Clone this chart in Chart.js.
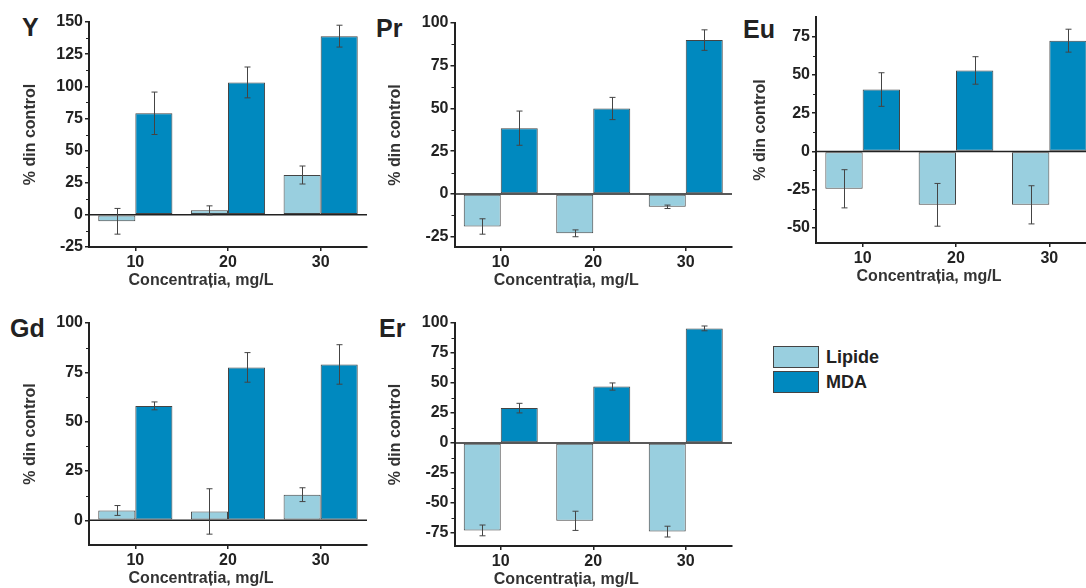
<!DOCTYPE html>
<html>
<head>
<meta charset="utf-8">
<script src="https://cdn.jsdelivr.net/npm/chart.js@4"></script>
<style>
  body { margin: 0; width: 1086px; height: 588px; overflow: hidden; background: #fff; position: relative; font-family: "Liberation Sans", Arial, sans-serif; }
  .panel { position: absolute; }
  .letter { position: absolute; font-weight: bold; font-size: 25px; color: #222; line-height: 1; }
  .legend-item { position: absolute; left: 773px; height: 22px; display: flex; align-items: center; }
  .legend-box { width: 44px; height: 20px; border: 1px solid #444; margin-right: 7px; }
  .legend-item span { font-weight: bold; font-size: 18px; color: #222; }
</style>
</head>
<body>

<div class="letter" style="left:22px;top:15px">Y</div>
<div class="letter" style="left:376px;top:16px">Pr</div>
<div class="letter" style="left:743px;top:17px">Eu</div>
<div class="letter" style="left:10px;top:316px">Gd</div>
<div class="letter" style="left:379px;top:316px">Er</div>

<div class="legend-item" style="top:346px"><div class="legend-box" style="background:#99cfdf"></div><span>Lipide</span></div>
<div class="legend-item" style="top:371px"><div class="legend-box" style="background:#0089bf"></div><span>MDA</span></div>

<script>
const categories = ["10", "20", "30"];

// Y
const yLipide = [-5, 3.5, 31];
const yLipideErr = [10, 3.5, 7];
const yMda = [79, 103, 139];
const yMdaErr = [16.5, 12, 8.5];
const yTicks = [-25, 0, 25, 50, 75, 100, 125, 150];

// Pr
const prLipide = [-19, -23, -7.5];
const prLipideErr = [4.5, 2, 1];
const prMda = [38.5, 50, 90];
const prMdaErr = [10, 6.5, 6];
const prTicks = [-25, 0, 25, 50, 75, 100];

// Eu
const euLipide = [-24.5, -35, -35];
const euLipideErr = [12.5, 14, 12.5];
const euMda = [40.5, 53, 72.5];
const euMdaErr = [11, 9, 7.5];
const euTicks = [-50, -25, 0, 25, 50, 75];

// Gd
const gdLipide = [5, 4.5, 13];
const gdLipideErr = [2.5, 11.5, 3.5];
const gdMda = [58, 77.5, 79];
const gdMdaErr = [2, 7.5, 10];
const gdTicks = [0, 25, 50, 75, 100];

// Er
const erLipide = [-73, -65, -74];
const erLipideErr = [4.5, 8, 4.5];
const erMda = [29, 47, 95.5];
const erMdaErr = [4, 3, 2];
const erTicks = [-75, -50, -25, 0, 25, 50, 75, 100];

const lipideColor = "#99cfdf";
const mdaColor = "#0089bf";
const ink = "#222";
const fontFamily = "'Liberation Sans', Arial, sans-serif";
const font = { family: fontFamily, size: 16, weight: "bold" };
const xTitle = "Concentrația, mg/L";

// chart area in page pixels: left, top, right, bottom
const panels = [
    { lip: yLipide, lipErr: yLipideErr, mda: yMda, mdaErr: yMdaErr, ticks: yTicks, min: -25, max: 150, area: [89, 22, 367, 247], yw: 72 },
    { lip: prLipide, lipErr: prLipideErr, mda: prMda, mdaErr: prMdaErr, ticks: prTicks, min: -31, max: 100, area: [454, 23, 732, 247], yw: 72.5 },
    { lip: euLipide, lipErr: euLipideErr, mda: euMda, mdaErr: euMdaErr, ticks: euTicks, min: -60, max: 88, area: [816, 17, 1096, 243], yw: 69 },
    { lip: gdLipide, lipErr: gdLipideErr, mda: gdMda, mdaErr: gdMdaErr, ticks: gdTicks, min: -12.5, max: 100, area: [89, 323, 367, 545], yw: 72 },
    { lip: erLipide, lipErr: erLipideErr, mda: erMda, mdaErr: erMdaErr, ticks: erTicks, min: -86, max: 100, area: [454, 323, 732, 546], yw: 72.5 }
];

const padTop = 12, padRight = 8, xh = 48;

// zero line, error bars, minor ticks and x title, drawn from the library's scales
const extrasPlugin = {
    id: "extras",
    afterDatasetsDraw(chart) {
        const ctx = chart.ctx;
        const ys = chart.scales.y;
        const area = chart.chartArea;
        ctx.save();

        // zero line over the bars
        const y0 = ys.getPixelForValue(0);
        ctx.strokeStyle = ink;
        ctx.lineWidth = 1.5;
        ctx.beginPath();
        ctx.moveTo(area.left, y0); ctx.lineTo(area.right, y0);
        ctx.stroke();

        ctx.strokeStyle = "#444";
        ctx.lineWidth = 1;
        chart.data.datasets.forEach((ds, i) => {
            const meta = chart.getDatasetMeta(i);
            meta.data.forEach((bar, j) => {
                const v = ds.data[j], e = ds.errors[j];
                const x = Math.round(bar.x) + 0.5;
                const y1 = ys.getPixelForValue(v + e);
                const y2 = ys.getPixelForValue(v - e);
                ctx.beginPath();
                ctx.moveTo(x, y1); ctx.lineTo(x, y2);
                ctx.moveTo(x - 3, y1); ctx.lineTo(x + 3, y1);
                ctx.moveTo(x - 3, y2); ctx.lineTo(x + 3, y2);
                ctx.stroke();
            });
        });

        // minor ticks
        const t = ys.ticks.map(k => k.value);
        ctx.strokeStyle = ink;
        for (let k = 0; k < t.length - 1; k++) {
            const y = Math.round(ys.getPixelForValue((t[k] + t[k + 1]) / 2)) + 0.5;
            ctx.beginPath();
            ctx.moveTo(ys.right - 3, y); ctx.lineTo(ys.right, y);
            ctx.stroke();
        }

        // x title, sits left of the plot centre in the original
        ctx.fillStyle = "#333";
        ctx.font = "bold 16px " + fontFamily;
        ctx.textAlign = "center";
        ctx.textBaseline = "middle";
        ctx.fillText(xTitle, (area.left + area.right) / 2 - 27, area.bottom + 34);
        ctx.restore();
    }
};

panels.forEach(p => {
    const [L, T, R, B] = p.area;
    const div = document.createElement("div");
    div.className = "panel";
    const w = R - L + p.yw + padRight;
    const h = B - T + padTop + xh;
    div.style.left = (L - p.yw) + "px";
    div.style.top = (T - padTop) + "px";
    const canvas = document.createElement("canvas");
    canvas.width = w;
    canvas.height = h;
    div.appendChild(canvas);
    document.body.appendChild(div);

    new Chart(canvas, {
        type: "bar",
        data: {
            labels: categories,
            datasets: [
                { label: "Lipide", data: p.lip, errors: p.lipErr, backgroundColor: lipideColor },
                { label: "MDA", data: p.mda, errors: p.mdaErr, backgroundColor: mdaColor }
            ]
        },
        options: {
            responsive: false,
            animation: false,
            layout: { padding: { top: padTop, right: padRight, left: 0, bottom: 0 } },
            datasets: {
                bar: {
                    categoryPercentage: 0.8,
                    barPercentage: 1.0,
                    borderColor: "#444",
                    borderWidth: 1,
                    borderSkipped: false
                }
            },
            plugins: { legend: { display: false }, tooltip: { enabled: false } },
            scales: {
                x: {
                    offset: true,
                    grid: { display: true, drawOnChartArea: false, offset: false, tickLength: 4, tickColor: ink, lineWidth: 1.5 },
                    border: { display: true, color: ink, width: 2 },
                    ticks: { color: ink, font: font, padding: 2 },
                    afterFit(scale) { scale.height = xh; }
                },
                y: {
                    min: p.min,
                    max: p.max,
                    afterBuildTicks(scale) { scale.ticks = p.ticks.map(v => ({ value: v })); },
                    grid: { drawOnChartArea: false, tickLength: 4, tickColor: ink, lineWidth: 1.5 },
                    border: { display: true, color: ink, width: 2 },
                    ticks: { color: ink, font: font, padding: 2 },
                    title: { display: true, text: "% din control", color: "#333", font: font, padding: 4 },
                    afterFit(scale) { scale.width = p.yw; }
                }
            }
        },
        plugins: [extrasPlugin]
    });
});
</script>
</body>
</html>
